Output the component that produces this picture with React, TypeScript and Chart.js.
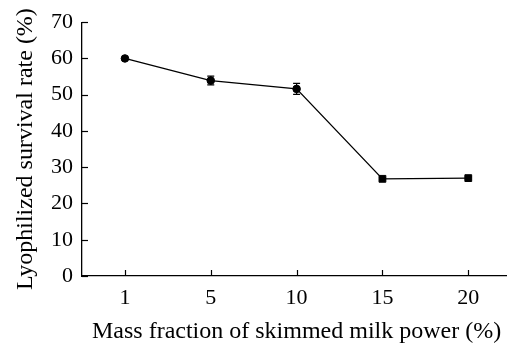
import React, { useEffect, useRef } from "react";
import { Chart, registerables } from "chart.js";

Chart.register(...registerables);

const categories = ["1", "5", "10", "15", "20"];
const survival = [60.0, 53.9, 51.6, 26.8, 27.0];
const errors = [0.3, 1.2, 1.5, 0.3, 0.3];
const pointStyles = ["circle", "circle", "circle", "rect", "rect"];
const yTicks = [0, 10, 20, 30, 40, 50, 60, 70];

const FONT = "'Liberation Serif', 'Times New Roman', serif";

const innerTicks = {
  id: "innerTicks",
  afterDraw(chart: any) {
    const { ctx, chartArea, scales } = chart;
    ctx.save();
    ctx.strokeStyle = "#000";
    ctx.lineWidth = 1.2;
    const ys = scales.y;
    ys.ticks.forEach((t: any) => {
      const py = Math.round(ys.getPixelForValue(t.value)) + 0.5;
      ctx.beginPath();
      ctx.moveTo(chartArea.left, py);
      ctx.lineTo(chartArea.left + 6, py);
      ctx.stroke();
    });
    const xs = scales.x;
    categories.forEach((_, i) => {
      const px = Math.round(xs.getPixelForValue(i)) + 0.5;
      ctx.beginPath();
      ctx.moveTo(px, chartArea.bottom);
      ctx.lineTo(px, chartArea.bottom - 6);
      ctx.stroke();
    });
    ctx.restore();
  },
};

const errorBars = {
  id: "errorBars",
  afterDatasetsDraw(chart: any) {
    const { ctx, scales } = chart;
    ctx.save();
    ctx.strokeStyle = "#000";
    ctx.lineWidth = 1.3;
    survival.forEach((v, i) => {
      const px = scales.x.getPixelForValue(i);
      const top = scales.y.getPixelForValue(v + errors[i]);
      const bot = scales.y.getPixelForValue(v - errors[i]);
      ctx.beginPath();
      ctx.moveTo(px, top);
      ctx.lineTo(px, bot);
      ctx.moveTo(px - 3.5, top);
      ctx.lineTo(px + 3.5, top);
      ctx.moveTo(px - 3.5, bot);
      ctx.lineTo(px + 3.5, bot);
      ctx.stroke();
    });
    ctx.restore();
  },
};

export default function App() {
  const ref = useRef<HTMLCanvasElement>(null);
  useEffect(() => {
    if (!ref.current) return;
    const chart = new Chart(ref.current, {
      type: "line",
      data: {
        labels: categories,
        datasets: [
          {
            data: survival,
            borderColor: "#000",
            backgroundColor: "#000",
            borderWidth: 1.3,
            pointStyle: pointStyles as any,
            pointRadius: [3.8, 3.8, 3.8, 4.8, 4.8],
            pointBorderWidth: 1,
            pointBackgroundColor: "#000",
            pointBorderColor: "#000",
            tension: 0,
          },
        ],
      },
      options: {
        responsive: false,
        animation: false,
        devicePixelRatio: 1,
        layout: { padding: { left: 0, right: 2, top: 18, bottom: 0 } },
        plugins: { legend: { display: false }, tooltip: { enabled: false } },
        scales: {
          x: {
            type: "category",
            offset: true,
            grid: { display: false, drawTicks: false },
            border: { display: true, color: "#000", width: 1.3 },
            ticks: { color: "#000", font: { family: FONT, size: 22 }, padding: 9, maxRotation: 0 },
            title: {
              display: true,
              text: "Mass fraction of skimmed milk power (%)",
              color: "#000",
              font: { family: FONT, size: 24 },
              padding: { top: 0, bottom: 0 },
            },
            afterFit: (s: any) => {
              s.height = 70;
            },
          },
          y: {
            min: 0,
            max: 70,
            afterBuildTicks: (s: any) => {
              s.ticks = yTicks.map((v) => ({ value: v }));
            },
            grid: { display: false, drawTicks: false },
            border: { display: true, color: "#000", width: 1.3 },
            ticks: { color: "#000", font: { family: FONT, size: 22 }, padding: 9 },
            title: {
              display: true,
              text: "Lyophilized survival rate (%)",
              color: "#000",
              font: { family: FONT, size: 24 },
              padding: { top: 11, bottom: 0 },
            },
            afterFit: (s: any) => {
              s.width = 82;
            },
          },
        },
      },
      plugins: [innerTicks, errorBars],
    });
    return () => chart.destroy();
  }, []);
  return (
    <div
      style={{
        position: "fixed",
        left: 0,
        top: 0,
        width: 507,
        height: 346,
        overflow: "hidden",
        background: "#fff",
      }}
    >
      <canvas ref={ref} width={517} height={346} style={{ width: 517, height: 346, display: "block" }} />
    </div>
  );
}
